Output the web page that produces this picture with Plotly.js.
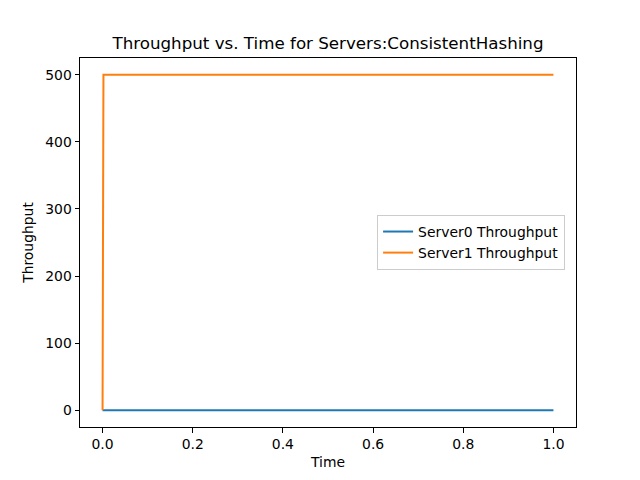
<!DOCTYPE html>
<html>
<head>
<meta charset="utf-8">
<script src="https://cdn.plot.ly/plotly-3.0.1.min.js"></script>
<style>html,body{margin:0;padding:0;background:#fff;}#chart{width:640px;height:480px;}</style>
</head>
<body>
<div id="chart"></div>
<script>
const time = [0, 0.002, 0.25, 0.5, 0.75, 1.0];
const server0 = [0, 0, 0, 0, 0, 0];
const server1 = [0, 500, 500, 500, 500, 500];
const seriesNames = ["Server0 Throughput", "Server1 Throughput"];
const xTicks = [0, 0.2, 0.4, 0.6, 0.8, 1.0];
const yTicks = [0, 100, 200, 300, 400, 500];

const font = {family: "DejaVu Sans", size: 13.9, color: "#000"};
const traces = [
  {x: time, y: server0, name: seriesNames[0], mode: "lines", line: {color: "#1f77b4", width: 2}},
  {x: time, y: server1, name: seriesNames[1], mode: "lines", line: {color: "#ff7f0e", width: 2}}
];
const axisCommon = {
  showgrid: false, zeroline: false, showline: true, mirror: true,
  linecolor: "#000", linewidth: 1, ticks: "outside", ticklen: 4.5, tickwidth: 1,
  tickcolor: "#000", tickfont: font
};
const layout = {
  width: 640, height: 480,
  margin: {l: 80, r: 64, t: 58, b: 53, pad: 0},
  paper_bgcolor: "#fff", plot_bgcolor: "#fff",
  font: font,
  title: {text: "Throughput vs. Time for Servers:ConsistentHashing", font: {family: "DejaVu Sans", size: 16.7, color: "#000"}, x: 0.5, xref: "paper", y: 0.91, yanchor: "middle"},
  xaxis: Object.assign({}, axisCommon, {range: [-0.05, 1.05], tickvals: xTicks, ticktext: xTicks.map(v => v.toFixed(1)), title: {text: "Time", font: font, standoff: 6}}),
  yaxis: Object.assign({}, axisCommon, {range: [-25, 525], tickvals: yTicks, ticktext: yTicks.map(String), title: {text: "Throughput", font: font, standoff: 8}}),
  showlegend: true,
  legend: {x: 0.978, xanchor: "right", y: 0.5, yanchor: "middle", bgcolor: "rgba(255,255,255,0.8)", bordercolor: "#cccccc", borderwidth: 1, font: font, itemwidth: 30, tracegroupgap: 0}
};
Plotly.newPlot("chart", traces, layout, {staticPlot: true, displayModeBar: false});
</script>
</body>
</html>
